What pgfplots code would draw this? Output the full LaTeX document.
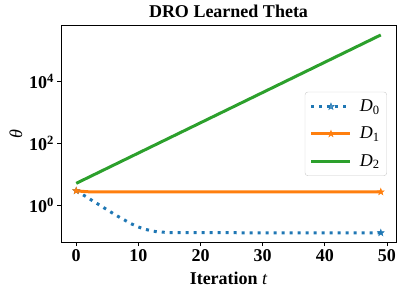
\documentclass[border=0pt]{standalone}
\usepackage{pgfplots}
\pgfplotsset{compat=1.18}
\usepackage{fontspec}
\setmainfont{Liberation Serif}
\definecolor{c0}{HTML}{1F77B4}
\definecolor{c1}{HTML}{FF7F0E}
\definecolor{c2}{HTML}{2CA02C}
\definecolor{legframe}{HTML}{CCCCCC}
\pgfdeclareplotmark{fstar}{%
  \pgfpathmoveto{\pgfpointpolar{90}{\pgfplotmarksize}}%
  \pgfpathlineto{\pgfpointpolar{126}{0.4\pgfplotmarksize}}%
  \pgfpathlineto{\pgfpointpolar{162}{\pgfplotmarksize}}%
  \pgfpathlineto{\pgfpointpolar{198}{0.4\pgfplotmarksize}}%
  \pgfpathlineto{\pgfpointpolar{234}{\pgfplotmarksize}}%
  \pgfpathlineto{\pgfpointpolar{270}{0.4\pgfplotmarksize}}%
  \pgfpathlineto{\pgfpointpolar{306}{\pgfplotmarksize}}%
  \pgfpathlineto{\pgfpointpolar{342}{0.4\pgfplotmarksize}}%
  \pgfpathlineto{\pgfpointpolar{18}{\pgfplotmarksize}}%
  \pgfpathlineto{\pgfpointpolar{54}{0.4\pgfplotmarksize}}%
  \pgfpathclose\pgfusepathqfillstroke}
\newcommand{\bigf}{\fontsize{18bp}{21bp}\selectfont}
\begin{document}
\begin{tikzpicture}
\useasboundingbox (-61bp,-52.3bp) rectangle (342bp,242.7bp);
\begin{axis}[
  at={(0,0)}, anchor=south west,
  scale only axis, width=335bp, height=217.7bp,
  ymode=log,
  xmin=-2.45, xmax=51.45, ymin=0.0603, ymax=6.9e5,
  xtick={0,10,20,30,40,50},
  ytick={1,100,10000},
  yticklabels={{10\textsuperscript{0}},{10\textsuperscript{2}},{10\textsuperscript{4}}},
  yminorticks=false, xminorticks=false,
  axis line style={line width=0.8bp, black},
  tick style={line width=0.8bp, black},
  major tick length=3.5bp,
  tick align=outside,
  xtick pos=bottom, ytick pos=left,
  ticklabel style={font=\bigf\bfseries},
  /pgf/number format/assume math mode=true,
  title={DRO Learned Theta},
  title style={font=\bigf\bfseries, yshift=-2bp},
  xlabel={Iteration {\mdseries\itshape t}},
  xlabel style={font=\bigf\bfseries, yshift=-3bp},
  ylabel={\itshape θ},
  ylabel style={font=\bigf},
  legend style={at={(0.973,0.5)}, anchor=east, draw=legframe, rounded corners=3bp,
    fill=white, fill opacity=0.8, text opacity=1, font=\bigf,
    row sep=10bp, inner xsep=5bp, inner ysep=6bp,
    /tikz/every odd column/.append style={column sep=6bp}},
  legend cell align=left,
  legend image code/.code={%
    \draw[#1, mark indices={2}] plot coordinates {(0bp,0bp) (19.5bp,0bp) (39bp,0bp)};},
]
\addplot[c0, line width=3bp, dash pattern=on 3bp off 5bp, mark=fstar, mark size=3.5bp,
  mark indices={1,24}, mark options={solid, line width=0.5bp, fill=c0}]
coordinates {
(0,2.91) (1,2.21) (2,1.66) (3,1.245) (4,0.933) (5,0.70) (6,0.525) (7,0.398)
(8,0.309) (9,0.240) (10,0.195) (11,0.166) (12,0.148) (13,0.136) (14,0.132)
(15,0.129) (16,0.128) (20,0.127) (25,0.1268) (30,0.1265) (35,0.1263) (40,0.1262)
(45,0.126) (49,0.126)};
\addlegendentry{\textit{D}\textsubscript{0}}
\addplot[c1, line width=3bp, mark=fstar, mark size=3.5bp,
  mark indices={1,5}, mark options={solid, line width=0.5bp, fill=c1}]
coordinates {(0,2.91) (1,2.78) (2,2.70) (3,2.68) (49,2.68)};
\addlegendentry{\textit{D}\textsubscript{1}}
\addplot[c2, line width=3bp, mark=none]
coordinates {(0,5.07) (7,24.7) (14,120.2) (21,585) (28,2846) (35,13840) (42,67400) (49,328000)};
\addlegendentry{\textit{D}\textsubscript{2}}
\end{axis}
\end{tikzpicture}
\end{document}
